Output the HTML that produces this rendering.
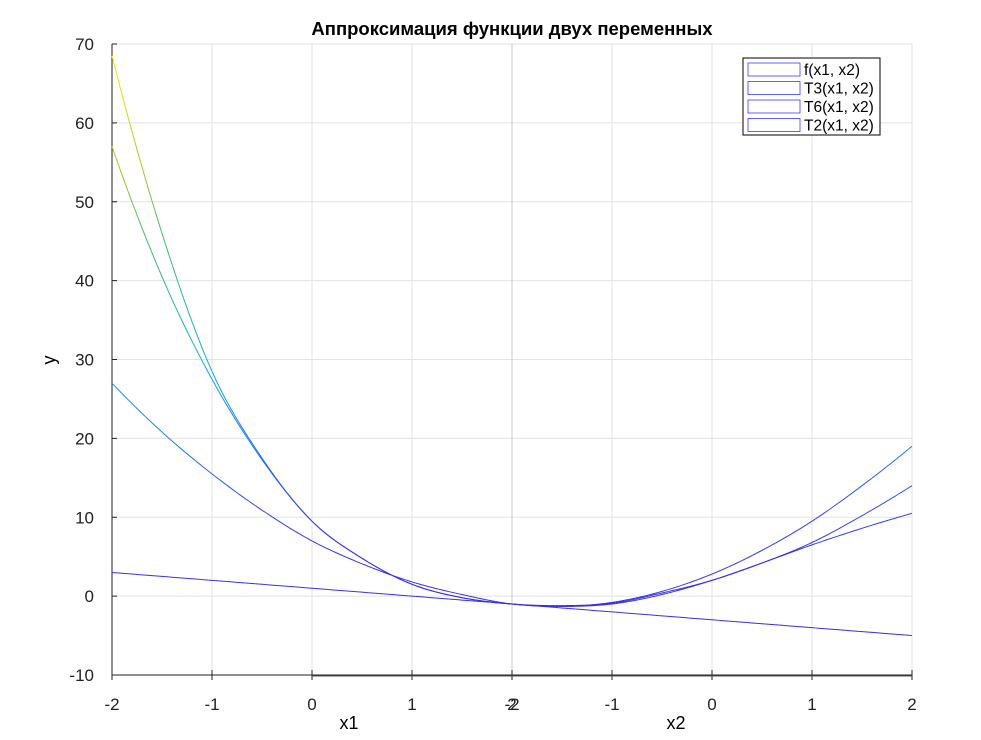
<!DOCTYPE html>
<html><head><meta charset="utf-8"><style>
body{margin:0;background:#fff;font-family:"Liberation Sans",sans-serif}
svg text{font-family:"Liberation Sans",sans-serif}
</style></head><body>
<svg id="chart" width="981" height="735" xmlns="http://www.w3.org/2000/svg">
<rect width="981" height="735" fill="#fff"/>
<g id="grid"></g>
<g id="axes"></g>
<g id="series"></g>
<text x="512" y="35" text-anchor="middle" font-size="18.5" font-weight="bold">Аппроксимация функции двух переменных</text>
<text x="55" y="360" text-anchor="middle" font-size="18" transform="rotate(-90 55 360)">y</text>
<text x="349" y="729" text-anchor="middle" font-size="18">x1</text>
<text x="676" y="729" text-anchor="middle" font-size="18">x2</text>
<g>
<rect x="743" y="58" width="137" height="77" fill="#fff" stroke="#000" stroke-width="1"/>
<g id="legend-items"></g>
</g>
</svg>
<script>
const uPos=[-4,-3.5,-3,-2.5,-2,-1.5,-1,-0.5,0,0.5,1,1.5,2,2.5,3,3.5,4];
const fVals=[68.5,46,28.5,17.5,9.5,4.8,1.5,-0.2,-1,-1.3,-0.8,0.6,2.8,5.8,9.5,14,19];
const t6Vals=[57,40.5,27.5,17.3,9.5,4.8,1.5,-0.2,-1,-1.2,-0.9,0.4,2,4.2,6.8,10.2,14];
const t3Vals=[27,20.8,15.5,10.9,7,4.1,1.8,0.2,-1,-1.3,-1,0.2,2,4.2,6.5,8.6,10.5];
const t2Vals=[3,2,1,0,-1,-2,-3,-4,-5];
const t2Pos=[-4,-3,-2,-1,0,1,2,3,4];
const yTicks=[-10,0,10,20,30,40,50,60,70];
const x1Ticks=["-2","-1","0","1","2"];
const x2Ticks=["-2","-1","0","1","2"];
const legendLabels=["f(x1, x2)","T3(x1, x2)","T6(x1, x2)","T2(x1, x2)"];
const NS="http://www.w3.org/2000/svg";
const X=u=>512+u*100, Y=v=>675-(v+10)*631/80;
function mk(t,a,p){const e=document.createElementNS(NS,t);for(const k in a)e.setAttribute(k,a[k]);p.appendChild(e);return e;}
const grid=document.getElementById('grid'),axes=document.getElementById('axes'),ser=document.getElementById('series');
yTicks.forEach(v=>{const l=mk('line',{x1:112,x2:912,y1:Y(v),y2:Y(v),stroke:'#e3e3e3'},grid);

const t=mk('text',{x:94,y:Y(v)+6,'text-anchor':'end','font-size':17,fill:'#222'},axes);t.textContent=v;

mk('line',{x1:112,x2:117,y1:Y(v),y2:Y(v),stroke:'#222'},axes);});
for(let i=0;i<=8;i++){const x=112+i*100;const l=mk('line',{x1:x,x2:x,y1:44,y2:675,stroke:i==4?'#c8c8c8':'#e3e3e3'},grid);

mk('line',{x1:x,x2:x,y1:670,y2:680,stroke:'#222'},axes);}
x1Ticks.forEach((s,i)=>{const t=mk('text',{x:112+i*100,y:710,'text-anchor':'middle','font-size':17,fill:'#222'},axes);t.textContent=s;
});
x2Ticks.forEach((s,i)=>{const t=mk('text',{x:512+i*100,y:710,'text-anchor':'middle','font-size':17,fill:'#222'},axes);t.textContent=s;
});
mk('line',{x1:112,x2:112,y1:44,y2:675,stroke:'#222'},axes);
mk('line',{x1:112,x2:912,y1:675,y2:675,stroke:'#222'},axes);
mk('line',{x1:312,x2:912,y1:676,y2:676,stroke:'#555'},axes);
function col(v){const s=[[-5,[55,40,225]],[8,[50,55,240]],[18,[30,110,245]],[30,[15,175,215]],[45,[60,190,110]],[55,[170,200,35]],[70,[250,240,15]]];
for(let i=0;i<s.length-1;i++){if(v<=s[i+1][0]){const t=Math.max(0,(v-s[i][0])/(s[i+1][0]-s[i][0]));const c=s[i][1].map((a,k)=>Math.round(a+(s[i+1][1][k]-a)*t));return `rgb(${c})`;}}return 'rgb(250,240,15)';}
function cr(xs,ys,x){let i=0;while(i<xs.length-2&&x>xs[i+1])i++;const t=(x-xs[i])/(xs[i+1]-xs[i]);const n=ys.length;
const p1=ys[i],p2=ys[i+1];
const p0=i>0?ys[i-1]:3*ys[0]-3*ys[1]+ys[2];
const p3=i+2<n?ys[i+2]:3*ys[n-1]-3*ys[n-2]+ys[n-3];
return 0.5*(2*p1+(-p0+p2)*t+(2*p0-5*p1+4*p2-p3)*t*t+(-p0+3*p1-3*p2+p3)*t*t*t);}
function draw(xs,ys,name){const g=mk('g',{},ser);
let pu=xs[0],pv=cr(xs,ys,pu);for(let k=1;k<=240;k++){const u=xs[0]+(xs[xs.length-1]-xs[0])*k/240;const v=cr(xs,ys,u);
mk('line',{x1:X(pu),y1:Y(pv),x2:X(u),y2:Y(v),stroke:col((v+pv)/2),'stroke-width':1},g);pu=u;pv=v;}}
draw(uPos,t3Vals,'t3-curve');draw(uPos,t6Vals,'t6-curve');draw(uPos,fVals,'f-curve');draw(t2Pos,t2Vals,'t2-line');
const li=document.getElementById('legend-items');
legendLabels.forEach((s,i)=>{const y=69+i*18.5;const r=mk('rect',{x:748,y:y-6,width:52,height:13,fill:'none',stroke:'#3a3aff','stroke-width':0.8},li);

const t=mk('text',{x:804,y:y+6,'font-size':15.5},li);t.textContent=s;});
</script>
</body></html>
